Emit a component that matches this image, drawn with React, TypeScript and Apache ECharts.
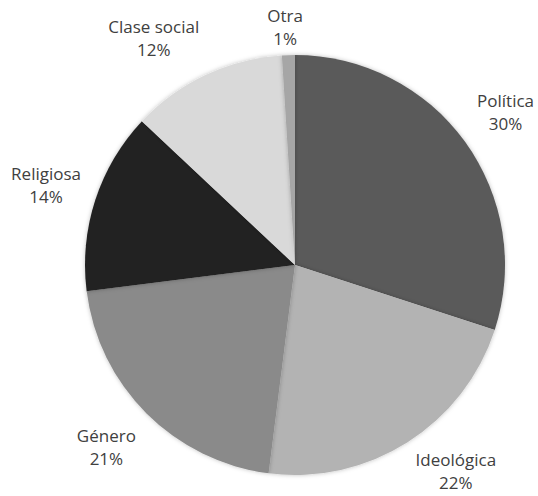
import React, { useEffect, useRef } from "react";
import * as echarts from "echarts";

const categories = ["Política", "Ideológica", "Género", "Religiosa", "Clase social", "Otra"];
const values = [30, 22, 21, 14, 12, 1];
const colors = ["#5a5a5a", "#b3b3b3", "#8a8a8a", "#232323", "#d9d9d9", "#a6a6a6"];

const W = 538;
const H = 496;
const CX = 295;
const CY = 265;
const R = 210;
const ANCHOR_R = 225;

const clamp = (v: number) => Math.max(-1, Math.min(1, v));

export default function App() {
  const ref = useRef<HTMLDivElement>(null);
  useEffect(() => {
    if (!ref.current) return;
    const chart = echarts.init(ref.current, undefined, { renderer: "svg" });
    const total = values.reduce((a, b) => a + b, 0);
    const cum: number[] = [];
    let acc = 0;
    values.forEach((v) => {
      cum.push(acc + v / 2);
      acc += v;
    });
    chart.setOption({
      animation: false,
      backgroundColor: "#ffffff",
      series: [
        {
          type: "pie",
          center: [CX, CY],
          radius: [0, R],
          startAngle: 90,
          clockwise: true,
          data: categories.map((c, i) => ({
            name: c,
            value: values[i],
            itemStyle: { color: colors[i] },
          })),
          itemStyle: {
            borderWidth: 0,
            shadowBlur: 4,
            shadowColor: "rgba(0,0,0,0.25)",
          },
          label: {
            show: true,
            position: "outside",
            formatter: (p: any) => `${p.name}\n${Math.round(p.percent)}%`,
            fontFamily: "Open Sans",
            fontSize: 17,
            lineHeight: 23,
            color: "#404040",
            align: "center",
            overflow: "none",
          },
          labelLine: { show: false },
          labelLayout: (params: any) => {
            const i = params.dataIndex;
            const ang = ((90 - (cum[i] / total) * 360) * Math.PI) / 180;
            const dx = Math.cos(ang);
            const dy = -Math.sin(ang);
            const h = params.labelRect.height;
            const w = params.labelRect.width;
            let x = CX + ANCHOR_R * dx + (w / 2) * clamp(dx * 5);
            let y = CY + ANCHOR_R * dy + (h / 2) * clamp(dy * 1.5);
            y = Math.max(y, 4 + h / 2);
            y = Math.min(y, H - 2 - h / 2);
            x = Math.max(x, 2 + w / 2);
            x = Math.min(x, W - 2 - w / 2);
            return { x, y, align: "center", verticalAlign: "middle" };
          },
          emphasis: { disabled: true },
        },
      ],
    });
    return () => chart.dispose();
  }, []);
  return (
    <div
      ref={ref}
      style={{ position: "absolute", left: 0, top: 0, width: W, height: H }}
    />
  );
}
